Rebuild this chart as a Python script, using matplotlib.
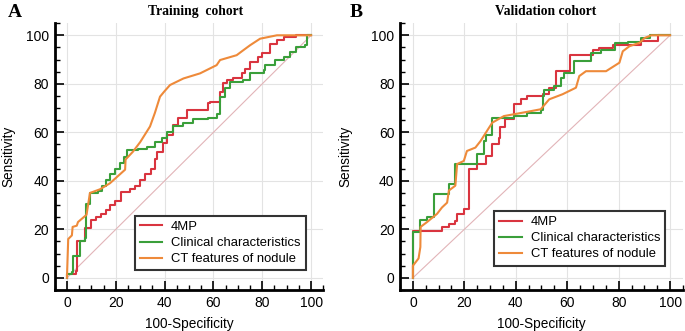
#!/usr/bin/env python3
"""ROC curves for the training and validation cohorts (two panels)."""

import matplotlib
matplotlib.use("Agg")

import matplotlib.pyplot as plt
from matplotlib.ticker import MultipleLocator

# ---- data: (100-specificity, sensitivity) vertices ----
train_4mp_x = [0, 0, 3.5, 4, 7.5, 10, 12, 14, 16, 17.5, 19.5, 22, 26, 28, 30, 32, 34.5, 36, 37,
               39.5, 41, 43.6, 45.6, 49, 57.9, 58.6, 62.7, 64, 65.4, 68.2, 71.6, 73, 75,
               78.4, 79.8, 83.2, 85.9, 88.7, 94, 97.5, 100]
train_4mp_y = [0, 1.5, 3, 15, 20.5, 24, 25, 26.5, 28, 30, 31.5, 35.5, 36.5, 38, 40.5, 43, 45, 49,
               52, 55.6, 59, 63, 65.8, 69.3, 72, 72.5, 76.8, 80.2, 81.6, 82.2, 84.3, 86.3,
               89, 91, 92.5, 96.6, 98, 99.3, 100, 100, 100]

train_clin_x = [0, 0, 2, 2.3, 5.3, 5.5, 7.5, 7.8, 9.3, 12.8, 14.2, 16, 17.6, 19.7, 21.7, 23.5,
                24.5, 29, 32.7, 36, 39, 40.8, 43.6, 47.7, 51.8, 57.9, 61.3, 62.7, 64.7, 66.8,
                72.3, 75, 80.5, 81.2, 85.3, 88.7, 91.4, 94, 97.5, 98.2, 100]
train_clin_y = [0, 1.5, 2.5, 9, 11.5, 15, 16.5, 30.5, 35, 36, 38, 40.5, 43, 45, 47.5, 50,
                52.5, 53, 54, 56, 57.5, 60, 62.5, 64, 65.5, 66, 67.5, 74.7, 78.1, 80.9,
                81.6, 84.3, 85.7, 87.7, 89.8, 91.1, 93.2, 95.2, 95.9, 100, 100]

train_ct_x = [0, 0, 0.5, 2, 2.3, 4, 4.5, 8, 9.4, 13.5, 17.6, 23.8, 24, 27, 30, 34, 36, 38.1,
              40, 42.2, 47.7, 54.5, 61.3, 62.7, 69.5, 72.3, 75, 79.1, 86, 100]
train_ct_y = [0, 1, 16, 17.5, 21, 21.5, 23, 26, 35, 36.5, 39, 44.6, 48.8, 52, 56, 62.4, 68,
              74.7, 77, 79.5, 82.2, 84.3, 87.7, 89.8, 91.8, 93.9, 95.9, 98.6, 100, 100]

valid_4mp_x = [0, 0, 11.3, 13.9, 16.5, 17.2, 19.8, 22, 25, 28.3, 30.9, 33.5, 34, 36, 39.3,
               41.9, 44.5, 50.4, 53, 55.6, 61, 69.9, 72.5, 77.7, 88.8, 95.3, 100]
valid_4mp_y = [0, 19.5, 21, 22.3, 23.6, 26.5, 28.4, 44.8, 46.9, 50.3, 55, 57.8, 62, 65.3,
               71.6, 73.6, 75, 75.7, 78.4, 85.2, 92, 94.1, 94.8, 96.2, 97.5, 100, 100]

valid_clin_x = [0, 0, 2.9, 5.5, 8.3, 13.9, 16.5, 25, 27.6, 28.3, 30.9, 39.3, 44.5, 49.7, 50.4,
                51, 55, 57.6, 58.9, 62.8, 69.3, 73.2, 78.4, 83.6, 88.8, 92, 100]
valid_clin_y = [0, 19, 24, 25, 34.6, 38.7, 46.9, 51, 56.4, 59, 66, 66.7, 68, 69.4, 75,
                77.6, 79, 82.4, 84.4, 89.2, 92.6, 94, 96.7, 97.4, 98.8, 100, 100]

valid_ct_x = [0, 0, 2.2, 2.9, 3, 5.5, 9.4, 11.3, 13.3, 14, 16.5, 17.2, 19.8, 21, 24.3, 26.3,
              29.6, 30.9, 35.4, 43.2, 49.7, 53, 58.2, 63.4, 64.7, 67.3, 75.1, 80.3, 81.6,
              84.2, 88.1, 90.1, 92.7, 100]
valid_ct_y = [0, 5, 8, 12.7, 21, 23, 26.4, 29, 31, 36, 38, 46.9, 48.2, 52.3, 53.7, 56.4,
              61.9, 64, 66.7, 68.2, 69.5, 73.6, 75.7, 78.4, 83.2, 85.2, 85.2, 88.7, 93.4,
              95.5, 96.9, 98.9, 100, 100]

labels = ["4MP", "Clinical characteristics", "CT features of nodule"]
colors = ["#d9343f", "#3a9f3a", "#ee8a3a"]

SANS = "Liberation Sans"
SERIF = "Liberation Serif"


def style_axes(ax):
    ax.set_xlim(-5, 105)
    ax.set_ylim(-5, 105)
    for side in ("top", "right"):
        ax.spines[side].set_visible(False)
    for side in ("left", "bottom"):
        ax.spines[side].set_linewidth(2.0)
        ax.spines[side].set_color("black")
    ax.xaxis.set_major_locator(MultipleLocator(20))
    ax.yaxis.set_major_locator(MultipleLocator(20))
    ax.xaxis.set_minor_locator(MultipleLocator(5))
    ax.yaxis.set_minor_locator(MultipleLocator(5))
    ax.tick_params(which="major", direction="in", length=6.5, width=1.2, pad=4,
                   labelsize=10, colors="black")
    ax.tick_params(which="minor", direction="in", length=3.8, width=1.0)
    for lab in ax.get_xticklabels() + ax.get_yticklabels():
        lab.set_fontfamily(SANS)
    ax.grid(True, which="major", color="#e3e3e3", linewidth=0.8)
    ax.set_axisbelow(True)
    ax.plot([0, 100], [0, 100], color="#e2b4b8", linewidth=0.8, zorder=1)
    ax.set_xlabel("100-Specificity", fontsize=9.8, family=SANS)
    ax.set_ylabel("Sensitivity", fontsize=9.8, family=SANS)


def main() -> None:
    fig = plt.figure(figsize=(6.85, 3.31), dpi=100)
    ax_a = fig.add_axes([0.080, 0.124, 0.392, 0.806])
    ax_b = fig.add_axes([0.584, 0.124, 0.413, 0.806])

    panels = [
        (ax_a, [(train_4mp_x, train_4mp_y, "steps-post"),
                (train_clin_x, train_clin_y, "steps-post"),
                (train_ct_x, train_ct_y, "default")], 0.959, 0.049),
        (ax_b, [(valid_4mp_x, valid_4mp_y, "steps-post"),
                (valid_clin_x, valid_clin_y, "steps-post"),
                (valid_ct_x, valid_ct_y, "default")], 0.961, 0.067),
    ]

    for ax, series, lx, ly in panels:
        style_axes(ax)
        for (xs, ys, ds), lab, col in zip(series, labels, colors):
            ax.plot(xs, ys, color=col, linewidth=1.5, drawstyle=ds, label=lab, zorder=3)
        leg = ax.legend(loc="lower right", bbox_to_anchor=(lx, ly), fancybox=False,
                        edgecolor="#333333", framealpha=1.0, handlelength=1.7,
                        handletextpad=0.7, labelspacing=0.3, borderpad=0.4,
                        prop={"family": SANS, "size": 9.4})
        leg.get_frame().set_linewidth(1.5)
        ax.xaxis.set_label_coords(0.5, -0.10)

    ax_a.yaxis.set_label_coords(-0.148, 0.5)
    ax_b.yaxis.set_label_coords(-0.17, 0.5)

    fig.text(0.285, 0.964, "Training  cohort", ha="center", va="center",
             fontsize=9.8, fontweight="bold", family=SERIF)
    fig.text(0.796, 0.964, "Validation cohort", ha="center", va="center",
             fontsize=9.8, fontweight="bold", family=SERIF)
    fig.text(0.022, 0.962, "A", ha="center", va="center",
             fontsize=14, fontweight="bold", family=SERIF)
    fig.text(0.520, 0.962, "B", ha="center", va="center",
             fontsize=14, fontweight="bold", family=SERIF)

    fig.savefig("out.png", dpi=100)
    plt.close(fig)


if __name__ == "__main__":
    main()
